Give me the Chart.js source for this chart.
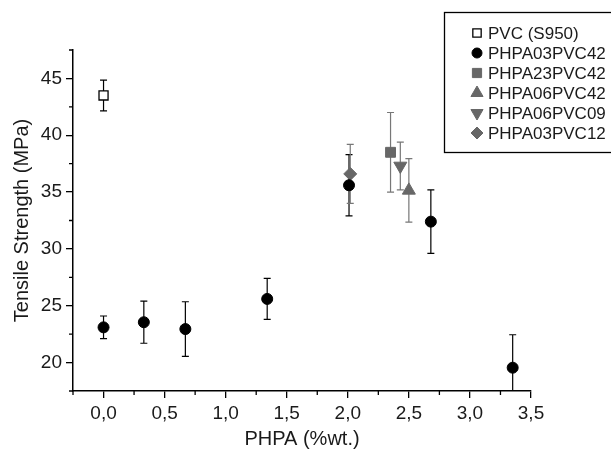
<!DOCTYPE html>
<html>
<head>
<meta charset="utf-8">
<script src="https://cdn.jsdelivr.net/npm/chart.js@4.4.1/dist/chart.umd.min.js"></script>
<style>
  html, body { margin: 0; padding: 0; background: #fff; }
  #wrap { width: 611px; height: 453px; }
</style>
</head>
<body>
<div id="wrap"><canvas id="myChart"></canvas></div>
<script>
  // values
  const seriesNames = ['PVC (S950)', 'PHPA03PVC42', 'PHPA23PVC42', 'PHPA06PVC42', 'PHPA06PVC09', 'PHPA03PVC12'];

  const pvcX = [0];
  const pvcY = [43.5];
  const pvcErr = [1.35];

  const p0342X = [0, 0.33, 0.67, 1.34, 2.01, 2.68, 3.35];
  const p0342Y = [23.1, 23.55, 22.95, 25.6, 35.6, 32.4, 19.55];
  const p0342Err = [1.0, 1.85, 2.4, 1.8, 2.7, 2.8, 2.9];

  const p2342X = [2.35];
  const p2342Y = [38.5];
  const p2342Err = [3.5];

  const p0642X = [2.5];
  const p0642Y = [35.15];
  const p0642Err = [2.8];

  const p0609X = [2.43];
  const p0609Y = [37.3];
  const p0609Err = [2.1];

  const p0312X = [2.02];
  const p0312Y = [36.6];
  const p0312Err = [2.6];

  const xTicks = [0, 0.5, 1, 1.5, 2, 2.5, 3, 3.5];
  const xMinor = [-0.25, 0.25, 0.75, 1.25, 1.75, 2.25, 2.75, 3.25];
  const yTicks = [20, 25, 30, 35, 40, 45];
  const yMinor = [17.5, 22.5, 27.5, 32.5, 37.5, 42.5, 47.5];

  const FONT = "'Liberation Sans', Arial, sans-serif";
  const GREY = '#676767';

  function pts(xs, ys) {
    return xs.map((x, i) => ({ x: x, y: ys[i] }));
  }

  function mkSet(label, xs, ys, errs, style, color, extra) {
    return Object.assign({
      label: label,
      data: pts(xs, ys),
      errors: errs,
      errColor: color === '#000' ? '#000' : '#777',
      pointStyle: style,
      backgroundColor: color,
      borderColor: color,
      borderWidth: 1,
      pointRadius: 6,
      showLine: false
    }, extra || {});
  }

  const data1 = {
    datasets: [
      mkSet(seriesNames[0], pvcX, pvcY, pvcErr, 'rect', '#000', { backgroundColor: '#fff', pointRadius: 6.4, borderWidth: 1.3 }),
      mkSet(seriesNames[1], p0342X, p0342Y, p0342Err, 'circle', '#000', { pointRadius: 5.5 }),
      mkSet(seriesNames[2], p2342X, p2342Y, p2342Err, 'rect', GREY, { pointRadius: 7 }),
      mkSet(seriesNames[3], p0642X, p0642Y, p0642Err, 'triangle', GREY, { pointRadius: 7.5 }),
      mkSet(seriesNames[4], p0609X, p0609Y, p0609Err, 'triangle', GREY, { pointRadius: 7.5, rotation: 180 }),
      mkSet(seriesNames[5], p0312X, p0312Y, p0312Err, 'rectRot', GREY, { pointRadius: 6.5 })
    ]
  };

  // error bars, drawn under the markers
  const errorBars = {
    id: 'errorBars',
    beforeDatasetsDraw(chart) {
      const ctx = chart.ctx;
      const xs = chart.scales.x, ys = chart.scales.y;
      const a = chart.chartArea;
      ctx.save();
      ctx.beginPath();
      ctx.rect(a.left, a.top - 10, a.right - a.left, a.bottom - a.top + 10);
      ctx.clip();
      chart.data.datasets.forEach(ds => {
        ctx.strokeStyle = ds.errColor;
        ctx.lineWidth = 1.2;
        ds.data.forEach((p, i) => {
          const e = ds.errors[i];
          const px = xs.getPixelForValue(p.x);
          const top = ys.getPixelForValue(p.y + e);
          const bot = ys.getPixelForValue(p.y - e);
          ctx.beginPath();
          ctx.moveTo(px, top);
          ctx.lineTo(px, bot);
          ctx.moveTo(px - 3.5, top);
          ctx.lineTo(px + 3.5, top);
          ctx.moveTo(px - 3.5, bot);
          ctx.lineTo(px + 3.5, bot);
          ctx.stroke();
        });
      });
      ctx.restore();
    }
  };

  // minor ticks + boxed legend
  const extras = {
    id: 'extras',
    afterDraw(chart) {
      const ctx = chart.ctx;
      const xs = chart.scales.x, ys = chart.scales.y;
      const a = chart.chartArea;
      ctx.save();
      ctx.strokeStyle = '#000';
      ctx.lineWidth = 1.3;
      ctx.beginPath();
      xMinor.forEach(v => {
        const px = xs.getPixelForValue(v);
        ctx.moveTo(px, a.bottom);
        ctx.lineTo(px, a.bottom + 4);
      });
      yMinor.forEach(v => {
        const py = ys.getPixelForValue(v);
        ctx.moveTo(a.left, py);
        ctx.lineTo(a.left - 4, py);
      });
      ctx.stroke();

      // legend box
      ctx.lineWidth = 1.3;
      ctx.strokeRect(444.5, 12.5, 170, 140);
      ctx.font = '17px ' + FONT;
      ctx.textBaseline = 'middle';
      ctx.textAlign = 'left';
      chart.data.datasets.forEach((ds, i) => {
        const y = 33 + i * 20;
        ctx.fillStyle = ds.backgroundColor;
        ctx.strokeStyle = ds.borderColor;
        ctx.lineWidth = ds.borderWidth;
        const opts = {
          pointStyle: ds.pointStyle,
          radius: ds.pointRadius - 0.5,
          rotation: ds.rotation || 0,
          borderWidth: ds.borderWidth
        };
        if (Chart.helpers && Chart.helpers.drawPoint) {
          Chart.helpers.drawPoint(ctx, opts, 477, y);
        }
        ctx.fillStyle = '#1a1a1a';
        ctx.fillText(ds.label, 488, y + 1);
      });
      ctx.restore();
    }
  };

  const config1 = {
    type: 'scatter',
    data: data1,
    options: {
      responsive: false,
      animation: false,
      layout: { padding: { left: 0, top: 50, right: 80, bottom: 0 } },
      plugins: {
        legend: { display: false },
        tooltip: { enabled: false }
      },
      scales: {
        x: {
          type: 'linear',
          min: -0.25,
          max: 3.5,
          afterBuildTicks: s => { s.ticks = xTicks.map(v => ({ value: v })); },
          afterFit: s => { s.height = 62; },
          grid: { drawOnChartArea: false, drawTicks: true, tickLength: 7, color: '#000', lineWidth: 1.3 },
          border: { display: true, color: '#000', width: 1.5 },
          ticks: {
            color: '#1a1a1a',
            padding: 4,
            maxRotation: 0,
            font: { family: FONT, size: 19 },
            callback: v => v.toFixed(1).replace('.', ',')
          },
          title: {
            display: true,
            text: 'PHPA (%wt.)',
            color: '#1a1a1a',
            padding: { top: 0, bottom: 2 },
            font: { family: FONT, size: 20 }
          }
        },
        y: {
          type: 'linear',
          min: 17.5,
          max: 47.5,
          afterBuildTicks: s => { s.ticks = yTicks.map(v => ({ value: v })); },
          afterFit: s => { s.width = 73; },
          grid: { drawOnChartArea: false, drawTicks: true, tickLength: 7, color: '#000', lineWidth: 1.3 },
          border: { display: true, color: '#000', width: 1.5 },
          ticks: {
            color: '#1a1a1a',
            padding: 4,
            font: { family: FONT, size: 19 },
            callback: v => String(v)
          },
          title: {
            display: true,
            text: 'Tensile Strength (MPa)',
            color: '#1a1a1a',
            padding: { top: 10, bottom: 0 },
            font: { family: FONT, size: 20 }
          }
        }
      }
    },
    plugins: [errorBars, extras]
  };

  const canvas = document.getElementById('myChart');
  canvas.width = 611;
  canvas.height = 453;

  const myChart = new Chart(canvas, config1);
</script>
</body>
</html>
